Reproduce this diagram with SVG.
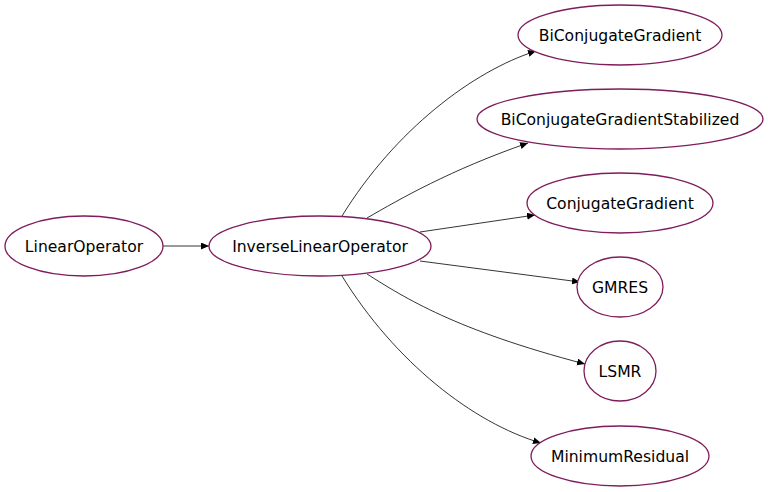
<svg xmlns="http://www.w3.org/2000/svg" width="768" height="492" viewBox="0 0 768 492">
<defs>
<style>
.node ellipse{fill:#ffffff;stroke:#7e1c5c;stroke-width:1.3}
.node text{font-family:"DejaVu Sans",sans-serif;font-size:15.6px;fill:#000;text-anchor:middle}
.edges path{fill:none;stroke:#000;stroke-width:0.8}
</style>
<marker id="arr" markerUnits="userSpaceOnUse" markerWidth="10" markerHeight="8" refX="8" refY="3.5" orient="auto">
<path d="M0,0 L8,3.5 L0,7 Z" fill="#000"/>
</marker>
</defs>
<rect width="768" height="492" fill="#ffffff"/>
<g id="edges" class="edges">
<path d="M163,246 L209,246" marker-end="url(#arr)"/>
<path d="M342,216 C395,130 473,71 536,51" marker-end="url(#arr)"/>
<path d="M367,218 C400,199 450,170 528,143" marker-end="url(#arr)"/>
<path d="M420,232 L535,215" marker-end="url(#arr)"/>
<path d="M420,261 L580,282" marker-end="url(#arr)"/>
<path d="M367,274 C405,298 455,330 585,364" marker-end="url(#arr)"/>
<path d="M342,276 C395,362 473,423 541,443" marker-end="url(#arr)"/>
</g>
<g id="LinearOperator" class="node"><ellipse cx="84" cy="246" rx="79" ry="30"/><text x="84" y="251.5">LinearOperator</text></g>
<g id="InverseLinearOperator" class="node"><ellipse cx="320" cy="246" rx="111" ry="30"/><text x="320" y="251.5">InverseLinearOperator</text></g>
<g id="BiConjugateGradient" class="node"><ellipse cx="620" cy="35" rx="102" ry="30"/><text x="620" y="40.5">BiConjugateGradient</text></g>
<g id="BiConjugateGradientStabilized" class="node"><ellipse cx="620" cy="119" rx="143" ry="30"/><text x="620" y="124.5">BiConjugateGradientStabilized</text></g>
<g id="ConjugateGradient" class="node"><ellipse cx="620" cy="203" rx="93" ry="30"/><text x="620" y="208.5">ConjugateGradient</text></g>
<g id="GMRES" class="node"><ellipse cx="620" cy="287" rx="43" ry="30"/><text x="620" y="292.5">GMRES</text></g>
<g id="LSMR" class="node"><ellipse cx="620" cy="371" rx="36" ry="30"/><text x="620" y="376.5">LSMR</text></g>
<g id="MinimumResidual" class="node"><ellipse cx="620" cy="456" rx="89" ry="30"/><text x="620" y="461.5">MinimumResidual</text></g>
</svg>
